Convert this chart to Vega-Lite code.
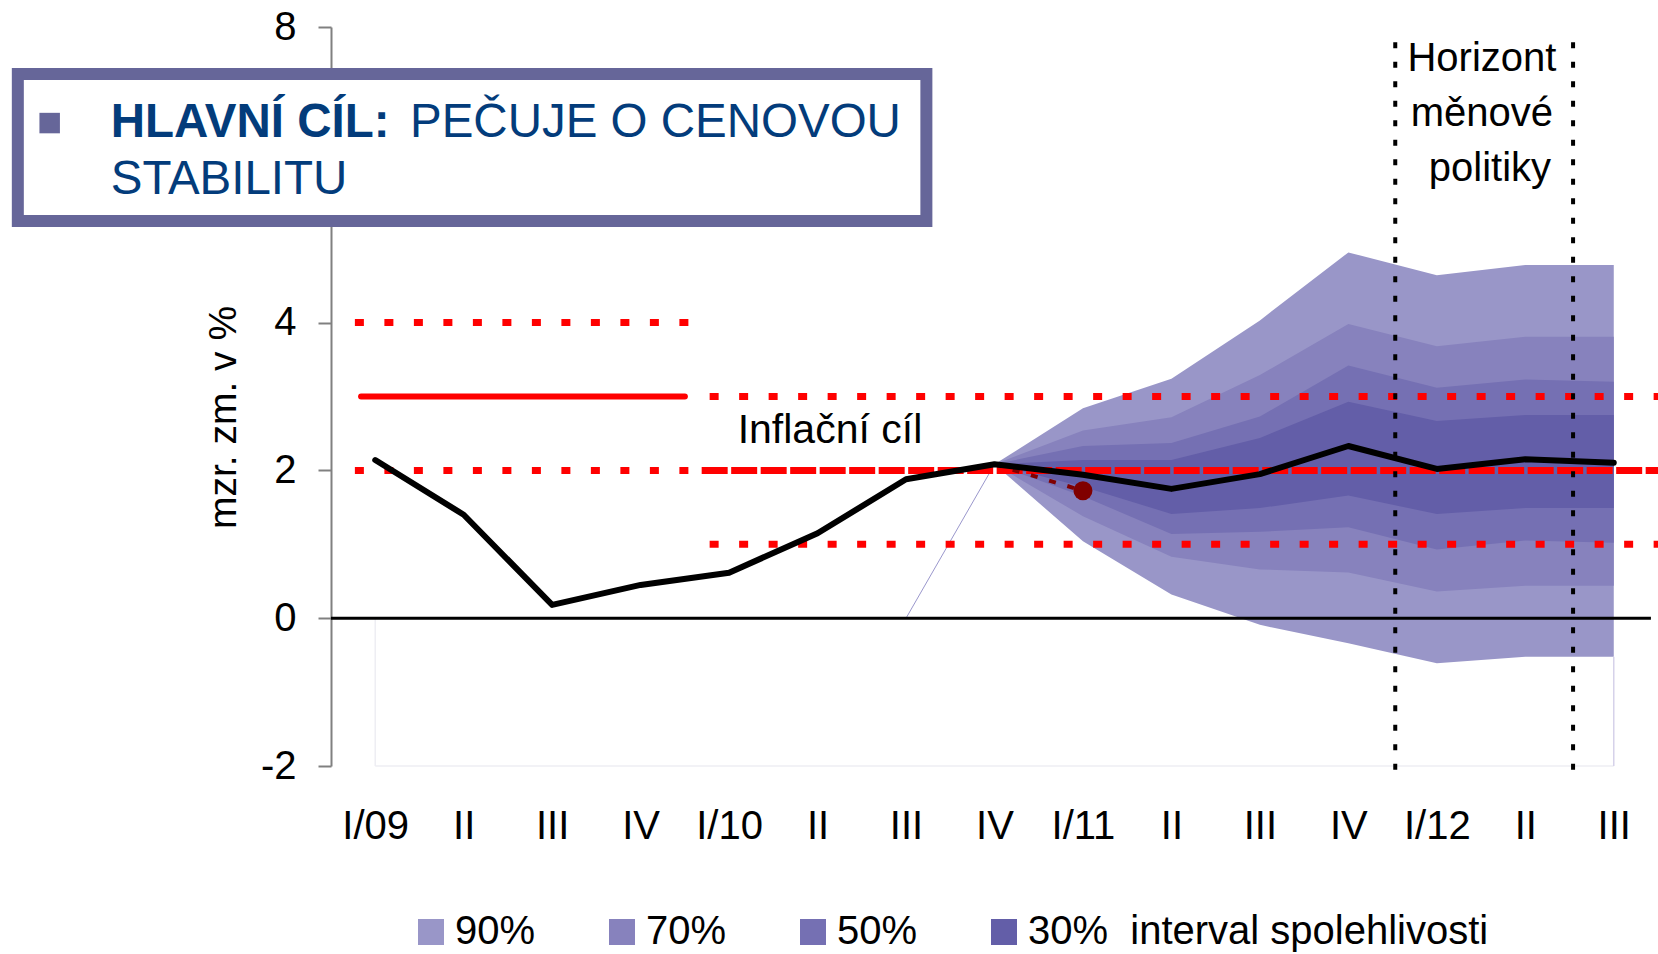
{
  "$schema": "https://vega.github.io/schema/vega-lite/v6.json",
  "width": 1327,
  "height": 739,
  "autosize": {"type": "none"},
  "padding": {"left": 331, "top": 27, "right": 0, "bottom": 188},
  "background": "white",
  "config": {"view": {"stroke": null}, "font": "Liberation Sans"},
  "datasets": {
    "actual": [
      {"x": 0, "y": 2.14}, {"x": 1, "y": 1.40}, {"x": 2, "y": 0.18}, {"x": 3, "y": 0.45},
      {"x": 4, "y": 0.616}, {"x": 5, "y": 1.149}, {"x": 6, "y": 1.88}, {"x": 7, "y": 2.083},
      {"x": 8, "y": 1.94}, {"x": 9, "y": 1.75}, {"x": 10, "y": 1.95}, {"x": 11, "y": 2.33},
      {"x": 12, "y": 2.02}, {"x": 13, "y": 2.15}, {"x": 14, "y": 2.105}
    ],
    "fan": [
      {"x": 7, "band": "90%", "lo": 2.083, "hi": 2.083},
      {"x": 8, "band": "90%", "lo": 1.04, "hi": 2.84},
      {"x": 9, "band": "90%", "lo": 0.32, "hi": 3.24},
      {"x": 10, "band": "90%", "lo": -0.09, "hi": 4.03},
      {"x": 11, "band": "90%", "lo": -0.34, "hi": 4.95},
      {"x": 12, "band": "90%", "lo": -0.61, "hi": 4.64},
      {"x": 13, "band": "90%", "lo": -0.52, "hi": 4.78},
      {"x": 14, "band": "90%", "lo": -0.52, "hi": 4.78},
      {"x": 7, "band": "70%", "lo": 2.083, "hi": 2.083},
      {"x": 8, "band": "70%", "lo": 1.38, "hi": 2.54},
      {"x": 9, "band": "70%", "lo": 0.83, "hi": 2.72},
      {"x": 10, "band": "70%", "lo": 0.66, "hi": 3.29},
      {"x": 11, "band": "70%", "lo": 0.62, "hi": 3.98},
      {"x": 12, "band": "70%", "lo": 0.36, "hi": 3.68},
      {"x": 13, "band": "70%", "lo": 0.44, "hi": 3.81},
      {"x": 14, "band": "70%", "lo": 0.44, "hi": 3.81},
      {"x": 7, "band": "50%", "lo": 2.083, "hi": 2.083},
      {"x": 8, "band": "50%", "lo": 1.65, "hi": 2.33},
      {"x": 9, "band": "50%", "lo": 1.14, "hi": 2.37},
      {"x": 10, "band": "50%", "lo": 1.17, "hi": 2.73},
      {"x": 11, "band": "50%", "lo": 1.23, "hi": 3.42},
      {"x": 12, "band": "50%", "lo": 0.93, "hi": 3.12},
      {"x": 13, "band": "50%", "lo": 1.05, "hi": 3.23},
      {"x": 14, "band": "50%", "lo": 1.02, "hi": 3.20},
      {"x": 7, "band": "30%", "lo": 2.083, "hi": 2.083},
      {"x": 8, "band": "30%", "lo": 1.78, "hi": 2.14},
      {"x": 9, "band": "30%", "lo": 1.41, "hi": 2.14},
      {"x": 10, "band": "30%", "lo": 1.49, "hi": 2.44},
      {"x": 11, "band": "30%", "lo": 1.66, "hi": 2.93},
      {"x": 12, "band": "30%", "lo": 1.41, "hi": 2.67},
      {"x": 13, "band": "30%", "lo": 1.49, "hi": 2.75},
      {"x": 14, "band": "30%", "lo": 1.49, "hi": 2.75}
    ],
    "hlines": [
      {"seg": "dot", "x": -0.23, "x2": 3.56, "y": 4},
      {"seg": "dot", "x": -0.23, "x2": 3.56, "y": 2},
      {"seg": "solid", "x": -0.16, "x2": 3.5, "y": 3},
      {"seg": "dash", "x": 3.69, "x2": 14.5, "y": 2},
      {"seg": "dot", "x": 3.78, "x2": 14.5, "y": 3},
      {"seg": "dot", "x": 3.78, "x2": 14.5, "y": 1}
    ],
    "zero": [{"x": -0.5, "x2": 14.42, "y": 0}],
    "faintv": [{"x": 0, "y": 0, "y2": -2, "c": "left"}, {"x": 14, "y": -0.52, "y2": -2, "c": "right"}],
    "fainth": [{"x": 0, "x2": 14, "y": -2}],
    "vlines": [{"x": 11.53, "y": -2.05, "y2": 7.84}, {"x": 13.54, "y": -2.05, "y2": 7.84}],
    "prev": [{"x": 7, "y": 2.083}, {"x": 8, "y": 1.725}],
    "prevdot": [{"x": 8, "y": 1.725}],
    "diag": [{"x": 6, "y": 0}, {"x": 7, "y": 2.083}],
    "box": [{"x": -4.04, "x2": 6.23, "y": 7.364, "y2": 5.375}],
    "bullet": [{"x": -3.68, "y": 6.70}],
    "texts": [
      {"kind": "bold", "t": "HLAVNÍ CÍL:", "x": -2.99, "y": 6.516},
      {"kind": "title", "t": "PEČUJE O CENOVOU", "x": 0.393, "y": 6.516},
      {"kind": "title", "t": "STABILITU", "x": -2.99, "y": 5.74},
      {"kind": "target", "t": "Inflační cíl", "x": 5.14, "y": 2.367},
      {"kind": "horizon", "t": "Horizont", "x": 12.51, "y": 7.409},
      {"kind": "horizon", "t": "měnové", "x": 12.51, "y": 6.66},
      {"kind": "horizon", "t": "politiky", "x": 12.6, "y": 5.916}
    ]
  },
  "layer": [
    {
      "data": {"name": "fan"},
      "transform": [{"filter": "datum.band === '90%'"}],
      "mark": {"type": "area", "opacity": 1},
      "encoding": {
        "x": {
          "field": "x", "type": "quantitative",
          "scale": {"domain": [-0.5, 14.5], "nice": false, "zero": false},
          "axis": {
            "values": [0, 1, 2, 3, 4, 5, 6, 7, 8, 9, 10, 11, 12, 13, 14],
            "labelExpr": "['I/09','II','III','IV','I/10','II','III','IV','I/11','II','III','IV','I/12','II','III'][datum.value]",
            "title": null, "grid": false, "ticks": false, "domain": false,
            "labelFontSize": 40, "labelFont": "Liberation Sans", "labelColor": "black",
            "labelPadding": 72.5, "labelBaseline": "alphabetic",
            "labelFlush": false, "labelOverlap": false, "labelBound": false
          }
        },
        "y": {
          "field": "hi", "type": "quantitative",
          "scale": {"domain": [-2, 8], "nice": false, "zero": false},
          "axis": {
            "values": [-2, 0, 2, 4, 8],
            "labelExpr": "'' + datum.value",
            "title": "mzr. zm. v %", "titleFontSize": 39, "titleFontWeight": "normal",
            "titleFont": "Liberation Sans", "titleColor": "black",
            "titleX": -95.6, "titleY": 390, "titleAngle": -90, "titleAlign": "center", "titleBaseline": "alphabetic",
            "labelFontSize": 40, "labelFont": "Liberation Sans", "labelColor": "black", "labelPadding": 22,
            "tickSize": 13, "tickColor": "#808080", "tickWidth": 2,
            "domainColor": "#808080", "domainWidth": 2, "grid": false,
            "labelFlush": false, "labelOverlap": false
          }
        },
        "y2": {"field": "lo"},
        "color": {
          "field": "band", "type": "nominal",
          "scale": {"domain": ["90%", "70%", "50%", "30%"], "range": ["#9996C8", "#8782BD", "#7570B3", "#635EA8"]},
          "legend": {
            "orient": "none", "legendX": 80, "legendY": 885, "direction": "horizontal",
            "title": null, "symbolType": "square", "symbolSize": 676, "symbolStrokeWidth": 0,
            "symbolOpacity": 1, "labelFontSize": 40, "labelFont": "Liberation Sans", "labelColor": "black",
            "labelOffset": 4, "columnPadding": 66, "padding": 0, "offset": 0, "labelLimit": 800,
            "labelExpr": "datum.label === '30%' ? '30%\u00a0 interval spolehlivosti' : datum.label"
          }
        }
      }
    },
    {
      "data": {"name": "fan"},
      "transform": [{"filter": "datum.band === '70%'"}],
      "mark": {"type": "area", "opacity": 1},
      "encoding": {
        "x": {"field": "x", "type": "quantitative"},
        "y": {"field": "hi", "type": "quantitative"},
        "y2": {"field": "lo"},
        "color": {"field": "band", "type": "nominal"}
      }
    },
    {
      "data": {"name": "fan"},
      "transform": [{"filter": "datum.band === '50%'"}],
      "mark": {"type": "area", "opacity": 1},
      "encoding": {
        "x": {"field": "x", "type": "quantitative"},
        "y": {"field": "hi", "type": "quantitative"},
        "y2": {"field": "lo"},
        "color": {"field": "band", "type": "nominal"}
      }
    },
    {
      "data": {"name": "fan"},
      "transform": [{"filter": "datum.band === '30%'"}],
      "mark": {"type": "area", "opacity": 1},
      "encoding": {
        "x": {"field": "x", "type": "quantitative"},
        "y": {"field": "hi", "type": "quantitative"},
        "y2": {"field": "lo"},
        "color": {"field": "band", "type": "nominal"}
      }
    },
    {
      "data": {"name": "diag"},
      "mark": {"type": "line", "color": "#9A97CC", "strokeWidth": 1},
      "encoding": {"x": {"field": "x", "type": "quantitative"}, "y": {"field": "y", "type": "quantitative"}}
    },
    {
      "data": {"name": "fainth"},
      "mark": {"type": "rule", "color": "#EEEEF3", "strokeWidth": 1.5},
      "encoding": {"x": {"field": "x", "type": "quantitative"}, "x2": {"field": "x2"}, "y": {"field": "y", "type": "quantitative"}}
    },
    {
      "data": {"name": "faintv"},
      "transform": [{"filter": "datum.c === 'left'"}],
      "mark": {"type": "rule", "color": "#EEEEF3", "strokeWidth": 1.5},
      "encoding": {"x": {"field": "x", "type": "quantitative"}, "y": {"field": "y", "type": "quantitative"}, "y2": {"field": "y2"}}
    },
    {
      "data": {"name": "faintv"},
      "transform": [{"filter": "datum.c === 'right'"}],
      "mark": {"type": "rule", "color": "#D6D2EA", "strokeWidth": 1.5},
      "encoding": {"x": {"field": "x", "type": "quantitative"}, "y": {"field": "y", "type": "quantitative"}, "y2": {"field": "y2"}}
    },
    {
      "data": {"name": "zero"},
      "mark": {"type": "rule", "color": "black", "strokeWidth": 3},
      "encoding": {"x": {"field": "x", "type": "quantitative"}, "x2": {"field": "x2"}, "y": {"field": "y", "type": "quantitative"}}
    },
    {
      "data": {"name": "hlines"},
      "transform": [{"filter": "datum.seg === 'solid'"}],
      "mark": {"type": "rule", "color": "#FF0000", "strokeWidth": 6, "strokeCap": "round"},
      "encoding": {"x": {"field": "x", "type": "quantitative"}, "x2": {"field": "x2"}, "y": {"field": "y", "type": "quantitative"}}
    },
    {
      "data": {"name": "hlines"},
      "transform": [{"filter": "datum.seg === 'dot'"}],
      "mark": {"type": "rule", "color": "#FF0000", "strokeWidth": 7, "strokeCap": "butt", "strokeDash": [9, 20.5]},
      "encoding": {"x": {"field": "x", "type": "quantitative"}, "x2": {"field": "x2"}, "y": {"field": "y", "type": "quantitative"}}
    },
    {
      "data": {"name": "hlines"},
      "transform": [{"filter": "datum.seg === 'dash'"}],
      "mark": {"type": "rule", "color": "#FF0000", "strokeWidth": 7, "strokeCap": "butt", "strokeDash": [26, 3.5]},
      "encoding": {"x": {"field": "x", "type": "quantitative"}, "x2": {"field": "x2"}, "y": {"field": "y", "type": "quantitative"}}
    },
    {
      "data": {"name": "prev"},
      "mark": {"type": "line", "color": "#800000", "strokeWidth": 4, "strokeDash": [7, 12]},
      "encoding": {"x": {"field": "x", "type": "quantitative"}, "y": {"field": "y", "type": "quantitative"}}
    },
    {
      "data": {"name": "prevdot"},
      "mark": {"type": "point", "shape": "circle", "filled": true, "color": "#800000", "size": 360, "opacity": 1},
      "encoding": {"x": {"field": "x", "type": "quantitative"}, "y": {"field": "y", "type": "quantitative"}}
    },
    {
      "data": {"name": "actual"},
      "mark": {"type": "line", "color": "black", "strokeWidth": 6, "strokeCap": "round", "strokeJoin": "round"},
      "encoding": {"x": {"field": "x", "type": "quantitative"}, "y": {"field": "y", "type": "quantitative"}}
    },
    {
      "data": {"name": "vlines"},
      "mark": {"type": "rule", "color": "black", "strokeWidth": 4, "strokeDash": [6, 13.5]},
      "encoding": {"x": {"field": "x", "type": "quantitative"}, "y": {"field": "y", "type": "quantitative"}, "y2": {"field": "y2"}}
    },
    {
      "data": {"name": "box"},
      "mark": {"type": "rect", "fill": "white", "stroke": "#666699", "strokeWidth": 12},
      "encoding": {"x": {"field": "x", "type": "quantitative"}, "x2": {"field": "x2"}, "y": {"field": "y", "type": "quantitative"}, "y2": {"field": "y2"}}
    },
    {
      "data": {"name": "bullet"},
      "mark": {"type": "point", "shape": "square", "filled": true, "color": "#666699", "size": 420, "opacity": 1},
      "encoding": {"x": {"field": "x", "type": "quantitative"}, "y": {"field": "y", "type": "quantitative"}}
    },
    {
      "data": {"name": "texts"},
      "transform": [{"filter": "datum.kind === 'bold'"}],
      "mark": {"type": "text", "align": "left", "baseline": "alphabetic", "font": "Liberation Sans", "fontSize": 47.5, "fontWeight": "bold", "color": "#033C7B"},
      "encoding": {"x": {"field": "x", "type": "quantitative"}, "y": {"field": "y", "type": "quantitative"}, "text": {"field": "t"}}
    },
    {
      "data": {"name": "texts"},
      "transform": [{"filter": "datum.kind === 'title'"}],
      "mark": {"type": "text", "align": "left", "baseline": "alphabetic", "font": "Liberation Sans", "fontSize": 47.5, "color": "#033C7B"},
      "encoding": {"x": {"field": "x", "type": "quantitative"}, "y": {"field": "y", "type": "quantitative"}, "text": {"field": "t"}}
    },
    {
      "data": {"name": "texts"},
      "transform": [{"filter": "datum.kind === 'target'"}],
      "mark": {"type": "text", "align": "center", "baseline": "alphabetic", "font": "Liberation Sans", "fontSize": 41, "color": "black"},
      "encoding": {"x": {"field": "x", "type": "quantitative"}, "y": {"field": "y", "type": "quantitative"}, "text": {"field": "t"}}
    },
    {
      "data": {"name": "texts"},
      "transform": [{"filter": "datum.kind === 'horizon'"}],
      "mark": {"type": "text", "align": "center", "baseline": "alphabetic", "font": "Liberation Sans", "fontSize": 40, "color": "black"},
      "encoding": {"x": {"field": "x", "type": "quantitative"}, "y": {"field": "y", "type": "quantitative"}, "text": {"field": "t"}}
    }
  ]
}
